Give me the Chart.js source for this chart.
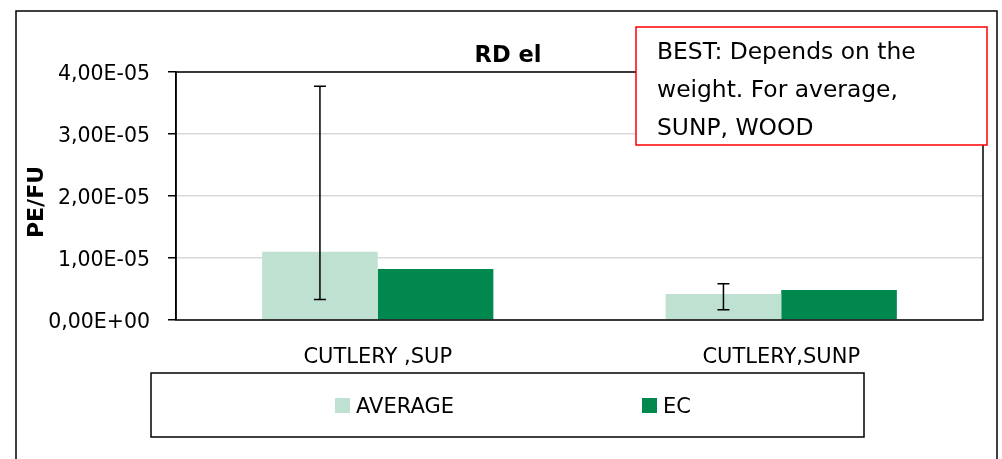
<!DOCTYPE html>
<html>
<head>
<meta charset="utf-8">
<script src="https://cdn.jsdelivr.net/npm/chart.js@4.4.1/dist/chart.umd.min.js"></script>
<style>
  html, body { margin: 0; padding: 0; background: #fff; }
  #wrap { width: 1002px; height: 459px; }
</style>
</head>
<body>
<div id="wrap"><canvas id="chart" width="1002" height="459"></canvas></div>
<script>
// data
const categories = ['CUTLERY ,SUP', 'CUTLERY,SUNP'];
const averageValues = [1.10e-5, 0.42e-5];
const ecValues = [0.823e-5, 0.484e-5];
const averageErrLow = [0.33e-5, 0.166e-5];
const averageErrHigh = [3.77e-5, 0.585e-5];
const yTicks = [0, 1e-5, 2e-5, 3e-5, 4e-5];
const noteLines = ['BEST: Depends on the', 'weight. For average,', 'SUNP, WOOD'];

const FONT = '"DejaVu Sans", sans-serif';

function sciComma(v) {
    const s = v.toExponential(2); // e.g. 4.00e-5
    let [m, e] = s.split('e');
    const sign = e[0] === '-' ? '-' : '+';
    e = e.replace(/[+-]/, '');
    if (e.length < 2) e = '0' + e;
    return m.replace('.', ',') + 'E' + sign + e;
}

// outer frame, plot border, title, axis title, error bars, note box, legend box
const decorations = {
    id: 'decorations',
    afterDraw(chart) {
        const ctx = chart.ctx;
        const area = chart.chartArea;
        const y = chart.scales.y;
        ctx.save();

        // outer frame
        ctx.strokeStyle = '#000';
        ctx.lineWidth = 1.5;
        ctx.strokeRect(16, 11, 981, 470);

        // plot area border
        ctx.strokeRect(area.left, area.top, area.right - area.left, area.bottom - area.top);

        // error bars on AVERAGE
        const meta = chart.getDatasetMeta(0);
        meta.data.forEach((bar, i) => {
            const x = bar.x;
            const yLo = y.getPixelForValue(averageErrLow[i]);
            const yHi = y.getPixelForValue(averageErrHigh[i]);
            ctx.beginPath();
            ctx.moveTo(x, yLo); ctx.lineTo(x, yHi);
            ctx.moveTo(x - 6, yLo); ctx.lineTo(x + 6, yLo);
            ctx.moveTo(x - 6, yHi); ctx.lineTo(x + 6, yHi);
            ctx.stroke();
        });

        // chart title
        ctx.fillStyle = '#000';
        ctx.textBaseline = 'alphabetic';
        ctx.font = 'bold 22.5px ' + FONT;
        ctx.textAlign = 'center';
        ctx.fillText('RD el', 508, 61.5);

        // y axis title
        ctx.save();
        ctx.translate(42.5, 202);
        ctx.rotate(-Math.PI / 2);
        ctx.font = 'bold 22px ' + FONT;
        ctx.fillText('PE/FU', 0, 0);
        ctx.restore();

        // note box
        ctx.fillStyle = '#fff';
        ctx.fillRect(636, 27, 351, 118);
        ctx.strokeStyle = '#ff0000';
        ctx.strokeRect(636, 27, 351, 118);
        ctx.fillStyle = '#000';
        ctx.font = '23.4px ' + FONT;
        ctx.textAlign = 'left';
        noteLines.forEach((line, i) => ctx.fillText(line, 657, 58.5 + i * 38.3));

        // legend box
        ctx.strokeStyle = '#000';
        ctx.strokeRect(151, 373, 713, 64);
        const itemX = [335, 642];
        ctx.font = '21px ' + FONT;
        chart.data.datasets.forEach((ds, i) => {
            const lx = itemX[i];
            ctx.fillStyle = ds.backgroundColor;
            ctx.fillRect(lx, 398, 15, 15);
            ctx.fillStyle = '#000';
            ctx.fillText(ds.label, lx + 21, 413);
        });

        ctx.restore();
    }
};

new Chart(document.getElementById('chart'), {
    type: 'bar',
    data: {
        labels: categories,
        datasets: [
            { label: 'AVERAGE', data: averageValues, backgroundColor: '#bfe1d2' },
            { label: 'EC', data: ecValues, backgroundColor: '#00884e' }
        ]
    },
    options: {
        responsive: false,
        animation: false,
        layout: { padding: { left: 0, top: 72, right: 19, bottom: 0 } },
        datasets: { bar: { barPercentage: 1, categoryPercentage: 0.573 } },
        plugins: {
            legend: { display: false },
            title: { display: false },
            tooltip: { enabled: false }
        },
        scales: {
            x: {
                afterFit: s => { s.height = 139; },
                grid: { display: false, drawTicks: false },
                border: { display: false },
                ticks: { color: '#000', font: { family: FONT, size: 21 }, padding: 24.5 }
            },
            y: {
                min: 0,
                max: 4e-5,
                afterFit: s => { s.width = 176; },
                afterBuildTicks: s => { s.ticks = yTicks.map(v => ({ value: v })); },
                grid: { color: '#d9d9d9', lineWidth: 1.5, tickColor: '#000', tickLength: 8 },
                border: { color: '#000', width: 1.5 },
                ticks: {
                    color: '#000',
                    padding: 18,
                    labelOffset: 3,
                    font: { family: FONT, size: 20.5 },
                    callback: v => sciComma(v)
                }
            }
        }
    },
    plugins: [decorations]
});
</script>
</body>
</html>
